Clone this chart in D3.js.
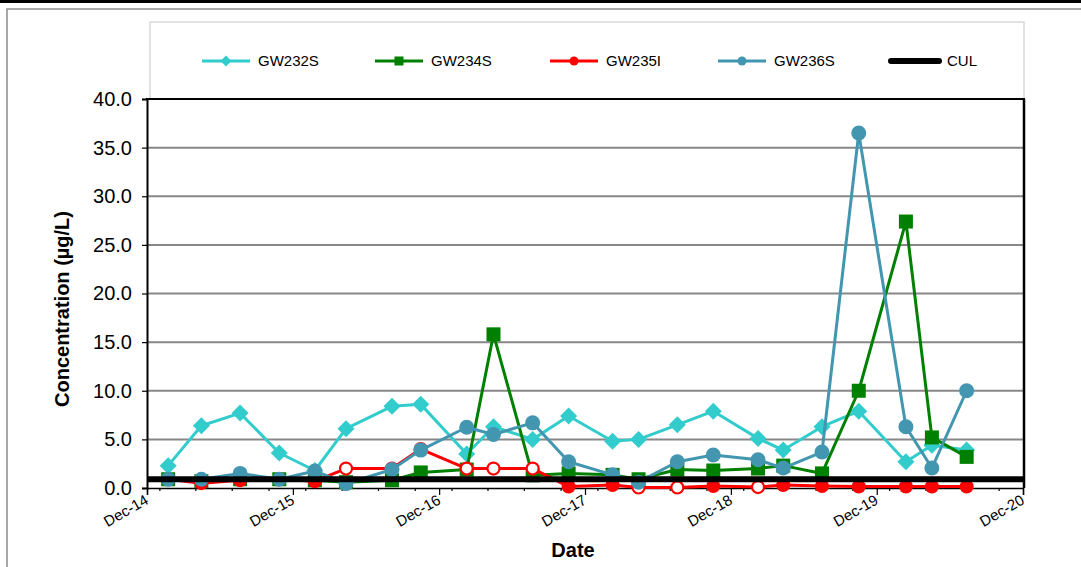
<!DOCTYPE html>
<html>
<head>
<meta charset="utf-8">
<script src="https://cdn.jsdelivr.net/npm/d3@7"></script>
<style>
  html, body { margin: 0; padding: 0; background: #fff; }
  svg { display: block; font-family: Arial, "Liberation Sans", sans-serif; }
</style>
</head>
<body>
<svg id="chart" width="1081" height="567"></svg>
<script>
// Sampling dates shared by all wells
const sampleDates = [
  "2015-01-23", "2015-04-16", "2015-07-22", "2015-10-28", "2016-01-25",
  "2016-04-12", "2016-08-05", "2016-10-16", "2017-02-08", "2017-04-16",
  "2017-07-23", "2017-10-21", "2018-02-08", "2018-04-14", "2018-07-20",
  "2018-10-18", "2019-02-07", "2019-04-11", "2019-07-17", "2019-10-17",
  "2020-02-12", "2020-04-17", "2020-07-13"
];

// Concentrations (µg/L)
const gw232s = [2.3, 6.4, 7.7, 3.6, 1.8, 6.1, 8.4, 8.6, 3.5, 6.3, 5.0, 7.4, 4.8, 5.0, 6.5, 7.9, 5.1, 3.9, 6.3, 7.9, 2.7, 4.4, 3.9];
const gw234s = [0.9, 0.7, 0.9, 0.9, 0.8, 0.6, 0.8, 1.6, 1.9, 15.8, 1.3, 1.5, 1.35, 0.9, 1.9, 1.8, 2.0, 2.3, 1.5, 10.0, 27.4, 5.2, 3.2];
const gw235i = [0.9, 0.5, 0.8, 0.9, 0.7, 2.0, 2.0, 4.0, 2.0, 2.0, 2.0, 0.15, 0.3, 0.05, 0.05, 0.2, 0.1, 0.3, 0.2, 0.15, 0.15, 0.15, 0.15];
// Non-detects plotted as open circles
const gw235iNonDetect = [true, false, false, true, false, true, true, true, true, true, true, false, false, true, true, false, true, false, false, false, false, false, false];
const gw236s = [0.9, 0.9, 1.5, 0.9, 1.75, 0.45, 1.9, 3.9, 6.25, 5.5, 6.7, 2.7, 1.35, 0.6, 2.7, 3.4, 2.9, 2.05, 3.7, 36.5, 6.3, 2.05, 10.0];

// Cleanup level
const culValue = 0.9;

// Axis ticks
const yTickValues = [0, 5, 10, 15, 20, 25, 30, 35, 40];
const xTickLabels = ["Dec-14", "Dec-15", "Dec-16", "Dec-17", "Dec-18", "Dec-19", "Dec-20"];

const seriesNames = ["GW232S", "GW234S", "GW235I", "GW236S", "CUL"];
const seriesColors = ["#33cccc", "#008000", "#ff0000", "#4396b0", "#000000"];
const seriesMarkers = ["diamond", "square", "circle", "circle", "none"];

const parseDate = d3.timeParse("%Y-%m-%d");
const dates = sampleDates.map(parseDate);
const tickDates = xTickLabels.map(d3.timeParse("%b-%y"));

const svg = d3.select("#chart");
const W = 1081, H = 567;
const L = 147, R = 1024, T = 99, B = 488;

const x = d3.scaleTime()
  .domain([tickDates[0], tickDates[tickDates.length - 1]])
  .range([L, 1023]);
const y = d3.scaleLinear().domain([0, 40]).range([B, T]);

// Page frame
svg.append("rect").attr("x", 0).attr("y", 0).attr("width", W).attr("height", 3).attr("fill", "#000");
svg.append("rect").attr("x", 7).attr("y", 9).attr("width", W + 20).attr("height", H + 20)
  .attr("fill", "none").attr("stroke", "#8c8c8c").attr("stroke-width", 1.5);

// Legend box
svg.append("rect").attr("x", 150).attr("y", 22).attr("width", 874).attr("height", 77)
  .attr("fill", "#fff").attr("stroke", "#d9d9d9").attr("stroke-width", 1.5);

// Gridlines
svg.append("g").selectAll("line")
  .data(yTickValues.filter(v => v > 0 && v < 40))
  .join("line")
  .attr("x1", L).attr("x2", R)
  .attr("y1", d => y(d)).attr("y2", d => y(d))
  .attr("stroke", "#878787").attr("stroke-width", 2);

// Y axis
const yAxis = svg.append("g").attr("transform", `translate(${L},0)`)
  .call(d3.axisLeft(y).tickValues(yTickValues).tickFormat(d3.format(".1f")).tickSize(5).tickPadding(10));
yAxis.select(".domain").attr("stroke", "#000").attr("stroke-width", 2);
yAxis.selectAll(".tick line").attr("stroke", "#000").attr("stroke-width", 1.2);
yAxis.selectAll(".tick text").attr("font-size", 20).attr("fill", "#000")
  .attr("font-family", "Arial, 'Liberation Sans', sans-serif");

// X axis: quarterly minor ticks, yearly labelled ticks
const xMinor = svg.append("g").attr("transform", `translate(0,${B})`)
  .call(d3.axisBottom(x).ticks(d3.timeMonth.every(3)).tickSize(3).tickFormat(""));
xMinor.select(".domain").remove();
xMinor.selectAll(".tick line").attr("stroke", "#000").attr("stroke-width", 1.2);

const xAxis = svg.append("g").attr("transform", `translate(0,${B})`)
  .call(d3.axisBottom(x).tickValues(tickDates).tickFormat(d3.timeFormat("%b-%y")).tickSize(7));
xAxis.select(".domain").attr("stroke", "#000").attr("stroke-width", 1.5);
xAxis.selectAll(".tick line").attr("stroke", "#000").attr("stroke-width", 1.2);
xAxis.selectAll(".tick text")
  .attr("font-size", 15).attr("fill", "#000")
  .attr("font-family", "Arial, 'Liberation Sans', sans-serif")
  .attr("text-anchor", "end")
  .attr("y", 0).attr("dy", 0)
  .attr("transform", "translate(2,15) rotate(-30)");

// Plot frame (top, right)
svg.append("line").attr("x1", L - 1).attr("x2", R + 1).attr("y1", T).attr("y2", T)
  .attr("stroke", "#000").attr("stroke-width", 2);
svg.append("line").attr("x1", R).attr("x2", R).attr("y1", T).attr("y2", B)
  .attr("stroke", "#000").attr("stroke-width", 2.5);

// Marker drawing
function drawMarker(g, type, color, size, open) {
  if (type === "diamond") {
    const s = size + 1;
    g.append("path").attr("d", `M0,${-s}L${s},0L0,${s}L${-s},0Z`).attr("fill", color);
  } else if (type === "square") {
    g.append("rect").attr("x", -size).attr("y", -size).attr("width", 2 * size).attr("height", 2 * size)
      .attr("fill", color);
  } else if (type === "circle") {
    if (open) {
      g.append("circle").attr("r", size - 1).attr("fill", "#fff").attr("stroke", color).attr("stroke-width", 2.2);
    } else {
      g.append("circle").attr("r", size).attr("fill", color);
    }
  }
}

const line = d3.line().x(d => x(d.date)).y(d => y(d.value));
const seriesValues = [gw232s, gw234s, gw235i, gw236s];
const markerSizes = [7.5, 7, 7, 7.5];

seriesValues.forEach((vals, i) => {
  const pts = vals.map((v, j) => ({ date: dates[j], value: v, open: i === 2 && gw235iNonDetect[j] }));
  const g = svg.append("g");
  g.append("path").datum(pts).attr("d", line)
    .attr("fill", "none").attr("stroke", seriesColors[i]).attr("stroke-width", 3)
    .attr("stroke-linejoin", "round");
  pts.forEach(p => {
    const m = g.append("g").attr("transform", `translate(${x(p.date)},${y(p.value)})`);
    drawMarker(m, seriesMarkers[i], seriesColors[i], markerSizes[i], p.open);
  });
});

// Cleanup level line
svg.append("line")
  .attr("x1", L).attr("x2", R)
  .attr("y1", y(culValue)).attr("y2", y(culValue))
  .attr("stroke", "#000").attr("stroke-width", 6);

// Legend
const legendX = [202, 375, 550, 718, 891];
seriesNames.forEach((name, i) => {
  const g = svg.append("g").attr("transform", `translate(${legendX[i]},61)`);
  g.append("line").attr("x1", 0).attr("x2", 48).attr("y1", 0).attr("y2", 0)
    .attr("stroke", seriesColors[i]).attr("stroke-width", i === 4 ? 6 : 3)
    .attr("stroke-linecap", i === 4 ? "round" : "butt");
  const m = g.append("g").attr("transform", "translate(24,0)");
  drawMarker(m, seriesMarkers[i], seriesColors[i], 4.5, false);
  g.append("text").attr("x", 56).attr("y", 0).attr("dy", "0.35em")
    .attr("font-size", 15).attr("fill", "#000").text(name);
});

// Axis titles
svg.append("text").attr("x", 573).attr("y", 557).attr("text-anchor", "middle")
  .attr("font-size", 20).attr("font-weight", "bold").text("Date");
svg.append("text").attr("transform", "translate(69,309) rotate(-90)").attr("text-anchor", "middle")
  .attr("font-size", 20).attr("font-weight", "bold").text("Concentration (µg/L)");
</script>
</body>
</html>
